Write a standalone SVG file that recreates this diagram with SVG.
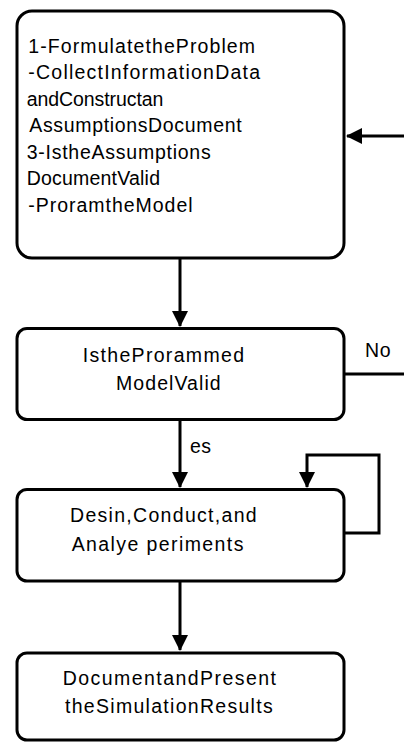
<svg xmlns="http://www.w3.org/2000/svg" width="404" height="742" viewBox="0 0 404 742">
<style>
.box{fill:#fff;stroke:#000;stroke-width:3}
.t{font-family:"Liberation Sans",Arial,sans-serif;font-size:19.5px;fill:#000}
.c{fill:none;stroke:#000;stroke-width:3}
</style>
<defs>
<marker id="ah" viewBox="0 0 16 16" refX="15" refY="8" markerWidth="16" markerHeight="16" markerUnits="userSpaceOnUse" orient="auto">
<path d="M0,0 L16,8 L0,16 Z" fill="#000"/>
</marker>
</defs>
<rect width="404" height="742" fill="#fff"/>
<g id="connectors">
<line class="c" x1="180" y1="258" x2="180" y2="326" marker-end="url(#ah)"/>
<line class="c" x1="180" y1="419" x2="180" y2="487" marker-end="url(#ah)"/>
<line class="c" x1="180" y1="581" x2="180" y2="650" marker-end="url(#ah)"/>
<polyline class="c" points="344,533 379,533 379,455 307,455 307,487" marker-end="url(#ah)"/>
<line class="c" x1="404" y1="136" x2="347" y2="136" marker-end="url(#ah)"/>
<line class="c" x1="344" y1="374" x2="404" y2="374"/>
<text class="t" x="365" y="357" textLength="25.5" lengthAdjust="spacing">No</text>
<text class="t" x="190" y="453" textLength="21" lengthAdjust="spacing">es</text>
</g>
<g id="n1">
<rect class="box" x="17" y="11" width="327" height="247" rx="15"/>
<text class="t" x="28.3" y="52.5" textLength="226.7" lengthAdjust="spacing">1-FormulatetheProblem</text>
<text class="t" x="28.3" y="79" textLength="231.7" lengthAdjust="spacing">-CollectInformationData</text>
<text class="t" x="26.7" y="105.5" textLength="136.7" lengthAdjust="spacing">andConstructan</text>
<text class="t" x="29.3" y="132" textLength="212.3" lengthAdjust="spacing">AssumptionsDocument</text>
<text class="t" x="26.7" y="158.5" textLength="184" lengthAdjust="spacing">3-IstheAssumptions</text>
<text class="t" x="26.7" y="185" textLength="133.3" lengthAdjust="spacing">DocumentValid</text>
<text class="t" x="28.3" y="211.5" textLength="164.3" lengthAdjust="spacing">-ProramtheModel</text>
</g>
<g id="n2">
<rect class="box" x="17" y="328.5" width="327" height="91" rx="10"/>
<text class="t" x="82.7" y="362" textLength="161.3" lengthAdjust="spacing">IstheProrammed</text>
<text class="t" x="116" y="389.5" textLength="104.7" lengthAdjust="spacing">ModelValid</text>
</g>
<g id="n3">
<rect class="box" x="17" y="489.5" width="327" height="91.5" rx="10"/>
<text class="t" x="70" y="522" textLength="186.7" lengthAdjust="spacing">Desin,Conduct,and</text>
<text class="t" x="71.7" y="551" textLength="171.7" lengthAdjust="spacing">Analye periments</text>
</g>
<g id="n4">
<rect class="box" x="17" y="653" width="327" height="87" rx="10"/>
<text class="t" x="62.7" y="684.5" textLength="213.3" lengthAdjust="spacing">DocumentandPresent</text>
<text class="t" x="65" y="713" textLength="207.7" lengthAdjust="spacing">theSimulationResults</text>
</g>
</svg>
